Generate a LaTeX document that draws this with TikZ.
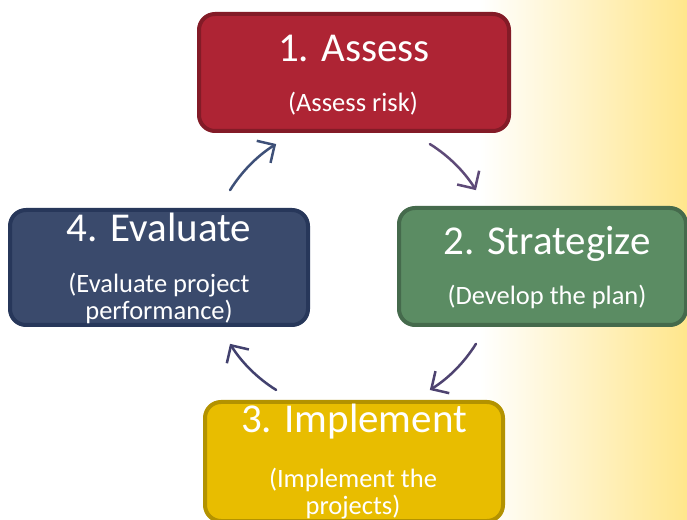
\documentclass[tikz,border=0pt]{standalone}
\usepackage{fontspec}
\setmainfont{Carlito}
\usetikzlibrary{arrows.meta,calc}
\definecolor{bgy}{HTML}{FFE68C}
\definecolor{redf}{HTML}{AE2434}
\definecolor{redd}{HTML}{831B27}
\definecolor{grnf}{HTML}{5B8C63}
\definecolor{grnd}{HTML}{456A4C}
\definecolor{ylwf}{HTML}{E8BD00}
\definecolor{ylwd}{HTML}{B39200}
\definecolor{bluf}{HTML}{3A4A6C}
\definecolor{blud}{HTML}{27375A}
\definecolor{arb}{HTML}{3E5078}
\definecolor{arp}{HTML}{5E4A78}
\definecolor{arq}{HTML}{4E4370}
\definecolor{arr}{HTML}{42416E}
\begin{document}
\begin{tikzpicture}[x=1pt,y=1pt,
  stage/.style={draw, line width=4pt, rounded corners=16pt, inner sep=0pt},
  ttl/.style={text=white, anchor=base, font=\fontsize{41}{48}\selectfont, inner sep=0pt},
  subt/.style={text=white, anchor=base, font=\fontsize{26.5}{30}\selectfont, inner sep=0pt},
  cyc/.style={line width=2.5pt, line cap=round, -{Straight Barb[length=13pt,width=26pt,line width=2.5pt]}}]
\useasboundingbox (0,0) rectangle (687,519);
\clip (0,0) rectangle (687,519);
\fill[white] (0,0) rectangle (480,519);
\shade[left color=white,right color=bgy] (480,0) rectangle (687,519);
% boxes
\node[stage, fill=redf, draw=redd, minimum width=310, minimum height=117] (b1) at (354,446.5) {};
\node[stage, fill=grnf, draw=grnd, minimum width=287, minimum height=117] (b2) at (542.5,252.5) {};
\node[stage, fill=ylwf, draw=ylwd, minimum width=298, minimum height=119] (b3) at (354,57.5) {};
\node[stage, fill=bluf, draw=blud, minimum width=298, minimum height=115] (b4) at (159,251.5) {};
% texts
\node[ttl] (t1) at (354,457) {1. Assess};
\node[subt] (s1) at (353,407) {(Assess risk)};
\node[ttl] (t2) at (547,264) {2. Strategize};
\node[subt] (s2) at (547,214) {(Develop the plan)};
\node[ttl] (t3) at (354,86) {3. Implement};
\node[subt] (s3a) at (353,32) {(Implement the};
\node[subt] (s3b) at (353,5) {projects)};
\node[ttl] (t4) at (159,277) {4. Evaluate};
\node[subt] (s4a) at (159,226) {(Evaluate project};
\node[subt] (s4b) at (159,199) {performance)};
% cycle arrows
\coordinate (c) at (353,252);
\coordinate (a1) at ($(c)+(148:145)$);
\coordinate (a2) at ($(c)+(58:145)$);
\coordinate (a3) at ($(c)+(-32:145)$);
\coordinate (a4) at ($(c)+(-122:145)$);
\draw[cyc, arb] (a1) arc[start angle=148, end angle=122, radius=145];
\draw[cyc, arp] (a2) arc[start angle=58, end angle=32, radius=145];
\draw[cyc, arq] (a3) arc[start angle=-32, end angle=-58, radius=145];
\draw[cyc, arr] (a4) arc[start angle=-122, end angle=-148, radius=145];
\end{tikzpicture}
\end{document}
